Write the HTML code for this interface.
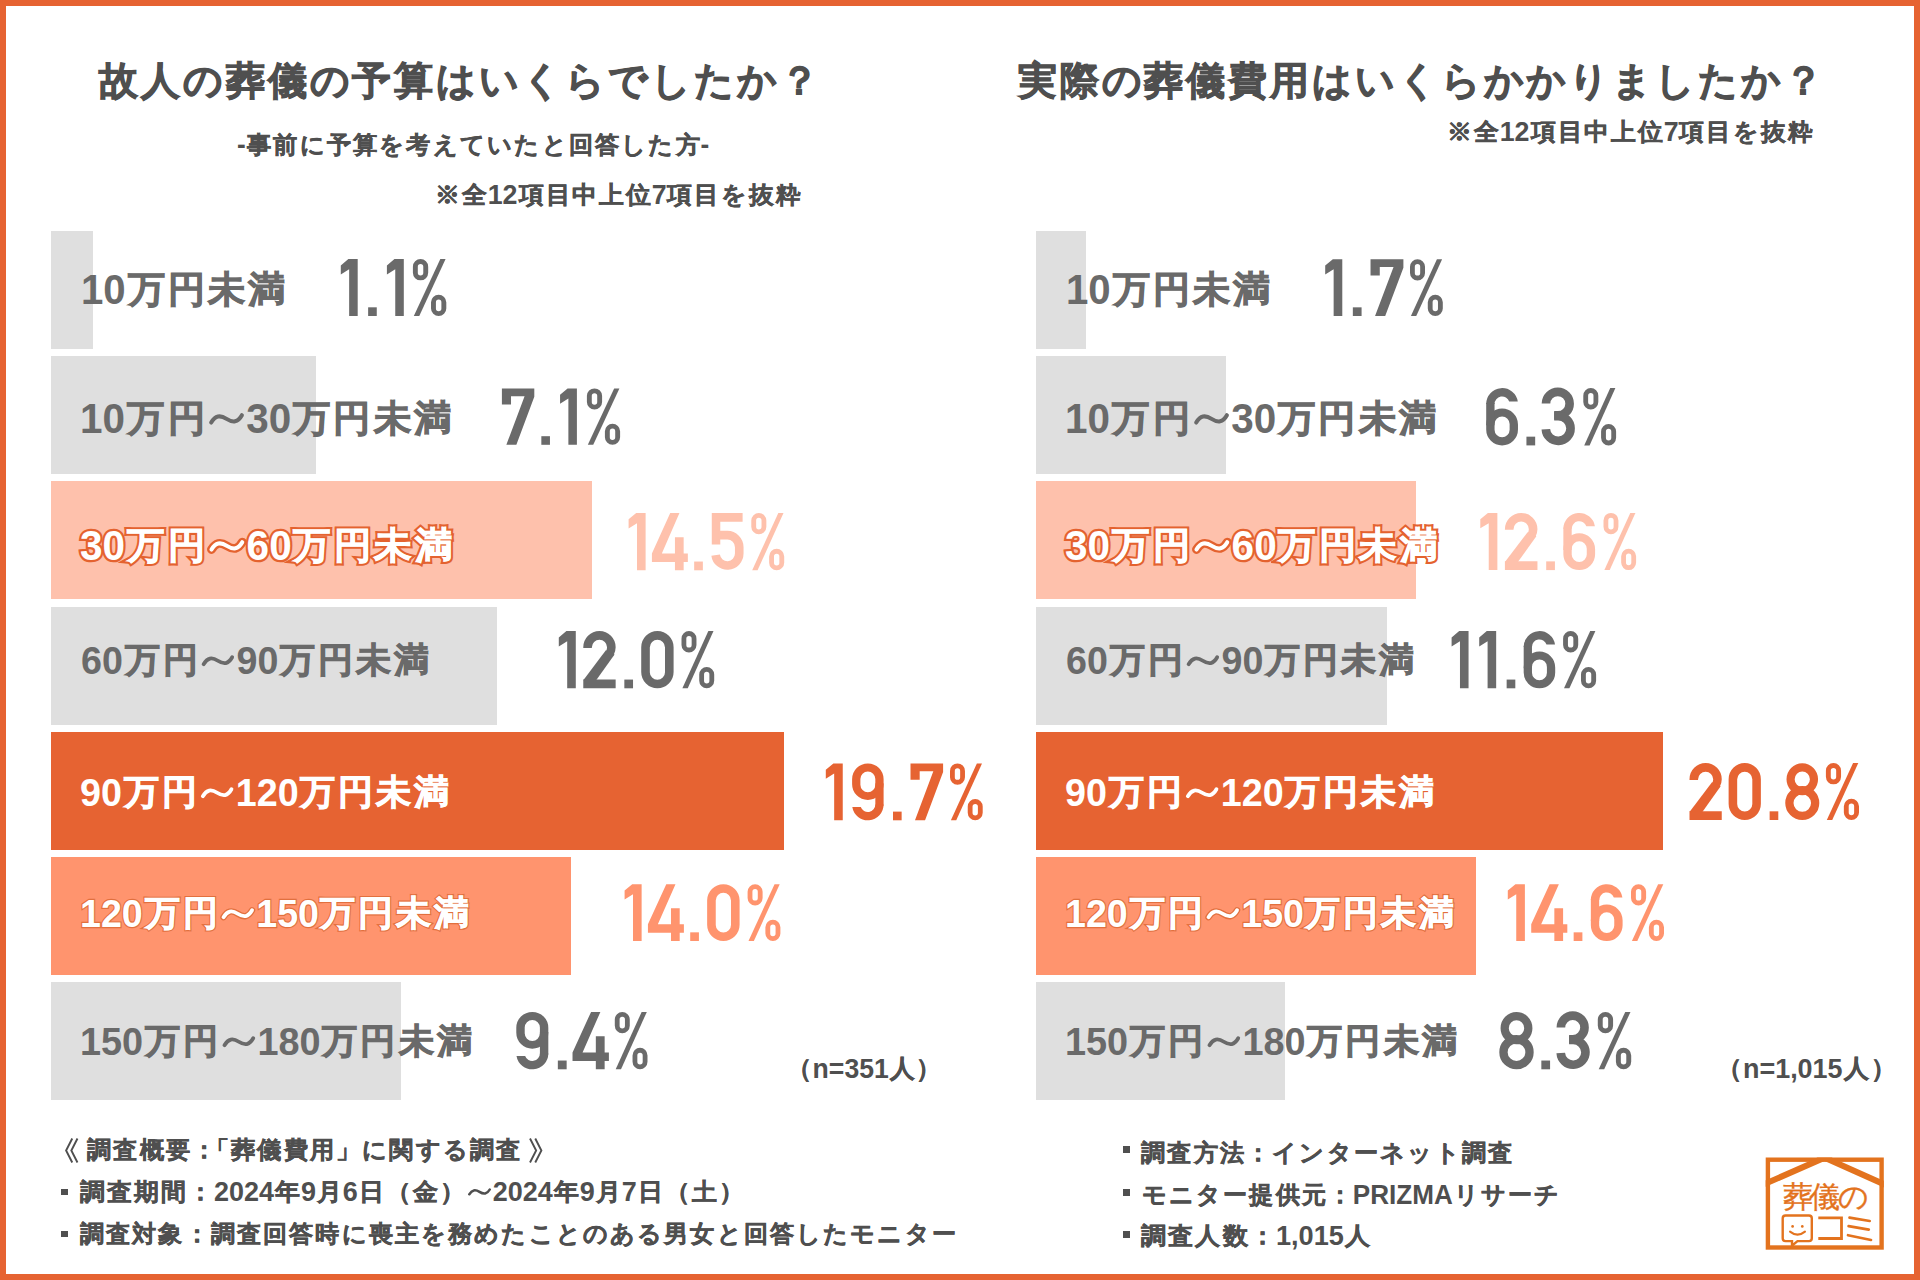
<!DOCTYPE html>
<html lang="ja"><head><meta charset="utf-8"><title>葬儀費用</title><style>
html,body{margin:0;padding:0;}
body{width:1920px;height:1280px;position:relative;overflow:hidden;background:#fff;font-family:"Liberation Sans",sans-serif;font-weight:bold;}
.frame{position:absolute;left:0;top:0;width:1920px;height:1280px;box-sizing:border-box;border:6px solid #E66332;}
.t{position:absolute;white-space:nowrap;transform-origin:0 0;}
.bar{position:absolute;height:118px;}
.wv{display:inline-block;width:1em;height:0;position:relative;-webkit-text-stroke:0;}
.wv svg{position:absolute;left:0;top:-0.86em;width:1em;height:1em;overflow:visible;}
.a{-webkit-text-stroke-width:0;display:inline-block;transform:scaleY(1.05);transform-origin:50% 84.65%;}
.k{display:inline-block;transform:translateY(-0.03em) scale(0.92);transform-origin:50% 54%;}
.th1{-webkit-text-stroke:0.9px currentColor;}
.th2{-webkit-text-stroke:1.0px currentColor;}
.th3{-webkit-text-stroke:0.5px currentColor;}
.ol{-webkit-text-stroke:5.5px #E4622F;color:#E4622F;}
.ol .a{-webkit-text-stroke-width:4.4px;}
.os{-webkit-text-stroke:3.4px #E2703E;color:#E2703E;}
.os .a{-webkit-text-stroke-width:2.3px;}
</style></head><body>
<div class="bar" style="left:51px;top:231px;width:42px;background:#DFDFDF"></div>
<div class="bar" style="left:1036px;top:231px;width:50px;background:#DFDFDF"></div>
<div class="bar" style="left:51px;top:356px;width:265px;background:#DFDFDF"></div>
<div class="bar" style="left:1036px;top:356px;width:190px;background:#DFDFDF"></div>
<div class="bar" style="left:51px;top:481px;width:541px;background:#FEC1AC"></div>
<div class="bar" style="left:1036px;top:481px;width:380px;background:#FEC1AC"></div>
<div class="bar" style="left:51px;top:607px;width:446px;background:#DFDFDF"></div>
<div class="bar" style="left:1036px;top:607px;width:351px;background:#DFDFDF"></div>
<div class="bar" style="left:51px;top:732px;width:733px;background:#E66332"></div>
<div class="bar" style="left:1036px;top:732px;width:627px;background:#E66332"></div>
<div class="bar" style="left:51px;top:857px;width:520px;background:#FF946E"></div>
<div class="bar" style="left:1036px;top:857px;width:440px;background:#FF946E"></div>
<div class="bar" style="left:51px;top:982px;width:350px;background:#DFDFDF"></div>
<div class="bar" style="left:1036px;top:982px;width:249px;background:#DFDFDF"></div>
<div class="t th2" style="left:96.70px;top:60.80px;font-size:42px;line-height:42px;color:#4F4F4F;transform:scaleX(0.9990);"><span class="k">故</span><span class="k">人</span><span class="k">の</span><span class="k">葬</span><span class="k">儀</span><span class="k">の</span><span class="k">予</span><span class="k">算</span><span class="k">は</span><span class="k">い</span><span class="k">く</span><span class="k">ら</span><span class="k">で</span><span class="k">し</span><span class="k">た</span><span class="k">か</span><span class="k">？</span></div>
<div class="t th2" style="left:1016.30px;top:61.00px;font-size:42px;line-height:42px;color:#4F4F4F;transform:scaleX(0.9976);"><span class="k">実</span><span class="k">際</span><span class="k">の</span><span class="k">葬</span><span class="k">儀</span><span class="k">費</span><span class="k">用</span><span class="k">は</span><span class="k">い</span><span class="k">く</span><span class="k">ら</span><span class="k">か</span><span class="k">か</span><span class="k">り</span><span class="k">ま</span><span class="k">し</span><span class="k">た</span><span class="k">か</span><span class="k">？</span></div>
<div class="t th3" style="left:236.79px;top:132.40px;font-size:26px;line-height:26px;color:#4F4F4F;transform:scaleX(1.0082);"><span class="a">-</span><span class="k">事</span><span class="k">前</span><span class="k">に</span><span class="k">予</span><span class="k">算</span><span class="k">を</span><span class="k">考</span><span class="k">え</span><span class="k">て</span><span class="k">い</span><span class="k">た</span><span class="k">と</span><span class="k">回</span><span class="k">答</span><span class="k">し</span><span class="k">た</span><span class="k">方</span><span class="a">-</span></div>
<div class="t th3" style="left:434.47px;top:181.60px;font-size:26px;line-height:26px;color:#4F4F4F;transform:scaleX(1.0325);"><span class="k">※</span><span class="k">全</span><span class="a">12</span><span class="k">項</span><span class="k">目</span><span class="k">中</span><span class="k">上</span><span class="k">位</span><span class="a">7</span><span class="k">項</span><span class="k">目</span><span class="k">を</span><span class="k">抜</span><span class="k">粋</span></div>
<div class="t th3" style="left:1446.47px;top:119.00px;font-size:26px;line-height:26px;color:#4F4F4F;transform:scaleX(1.0325);"><span class="k">※</span><span class="k">全</span><span class="a">12</span><span class="k">項</span><span class="k">目</span><span class="k">中</span><span class="k">上</span><span class="k">位</span><span class="a">7</span><span class="k">項</span><span class="k">目</span><span class="k">を</span><span class="k">抜</span><span class="k">粋</span></div>
<div class="t th3" style="left:786.23px;top:1056.00px;font-size:27px;line-height:27px;color:#4F4F4F;transform:scaleX(0.9857);"><span class="k">（</span><span class="a">n=351</span><span class="k">人</span><span class="k">）</span></div>
<div class="t th3" style="left:1716.03px;top:1055.50px;font-size:27px;line-height:27px;color:#4F4F4F;transform:scaleX(0.9980);"><span class="k">（</span><span class="a">n=1,015</span><span class="k">人</span><span class="k">）</span></div>
<div class="t th3" style="left:53.22px;top:1137.00px;font-size:26px;line-height:26px;color:#4F4F4F;transform:scaleX(1.0070);"><span class="wv"><svg viewBox="0 0 40 40"><path d="M29.4 2.3L20 20.8L29.4 39.3M37.4 2.3L28 20.8L37.4 39.3" stroke="currentColor" stroke-width="2.9" fill="none"/></svg></span> <span class="k">調</span><span class="k">査</span><span class="k">概</span><span class="k">要</span><span class="k">：</span><span class="k" style="margin-left:-0.5em">「</span><span class="k">葬</span><span class="k">儀</span><span class="k">費</span><span class="k">用</span><span class="k">」</span><span class="k">に</span><span class="k">関</span><span class="k">す</span><span class="k">る</span><span class="k">調</span><span class="k">査</span> <span class="wv"><svg viewBox="0 0 40 40"><path d="M10.6 2.3L20 20.8L10.6 39.3M2.6 2.3L12 20.8L2.6 39.3" stroke="currentColor" stroke-width="2.9" fill="none"/></svg></span></div>
<div class="t th3" style="left:78.76px;top:1179.00px;font-size:26px;line-height:26px;color:#4F4F4F;transform:scaleX(1.0376);"><span class="k">調</span><span class="k">査</span><span class="k">期</span><span class="k">間</span><span class="k">：</span><span class="a">2024</span><span class="k">年</span><span class="a">9</span><span class="k">月</span><span class="a">6</span><span class="k">日</span><span class="k">（</span><span class="k">金</span><span class="k">）</span><span class="k"><span class="wv"><svg viewBox="0 0 40 40"><path d="M3.5 25 C 8 17.5, 13 16.5, 20 21 S 32 25, 36.5 17" stroke="currentColor" stroke-width="4.2" fill="none" stroke-linecap="round"/></svg></span></span><span class="a">2024</span><span class="k">年</span><span class="a">9</span><span class="k">月</span><span class="a">7</span><span class="k">日</span><span class="k">（</span><span class="k">土</span><span class="k">）</span></div>
<div class="t th3" style="left:78.79px;top:1220.80px;font-size:26px;line-height:26px;color:#4F4F4F;transform:scaleX(1.0055);"><span class="k">調</span><span class="k">査</span><span class="k">対</span><span class="k">象</span><span class="k">：</span><span class="k">調</span><span class="k">査</span><span class="k">回</span><span class="k">答</span><span class="k">時</span><span class="k">に</span><span class="k">喪</span><span class="k">主</span><span class="k">を</span><span class="k">務</span><span class="k">め</span><span class="k">た</span><span class="k">こ</span><span class="k">と</span><span class="k">の</span><span class="k">あ</span><span class="k">る</span><span class="k">男</span><span class="k">女</span><span class="k">と</span><span class="k">回</span><span class="k">答</span><span class="k">し</span><span class="k">た</span><span class="k">モ</span><span class="k">ニ</span><span class="k">タ</span><span class="k">ー</span></div>
<div class="t th3" style="left:1140.09px;top:1139.70px;font-size:26px;line-height:26px;color:#4F4F4F;transform:scaleX(1.0087);"><span class="k">調</span><span class="k">査</span><span class="k">方</span><span class="k">法</span><span class="k">：</span><span class="k">イ</span><span class="k">ン</span><span class="k">タ</span><span class="k">ー</span><span class="k">ネ</span><span class="k">ッ</span><span class="k">ト</span><span class="k">調</span><span class="k">査</span></div>
<div class="t th3" style="left:1141.49px;top:1181.50px;font-size:26px;line-height:26px;color:#4F4F4F;transform:scaleX(1.0036);"><span class="k">モ</span><span class="k">ニ</span><span class="k">タ</span><span class="k">ー</span><span class="k">提</span><span class="k">供</span><span class="k">元</span><span class="k">：</span><span class="a">PRIZMA</span><span class="k">リ</span><span class="k">サ</span><span class="k">ー</span><span class="k">チ</span></div>
<div class="t th3" style="left:1140.05px;top:1223.30px;font-size:26px;line-height:26px;color:#4F4F4F;transform:scaleX(1.0452);"><span class="k">調</span><span class="k">査</span><span class="k">人</span><span class="k">数</span><span class="k">：</span><span class="a">1,015</span><span class="k">人</span></div>
<div class="t th1" style="left:80.69px;top:269.94px;font-size:40px;line-height:40px;color:#6A6A6A;transform:scaleX(1.0052);"><span class="a">10</span><span class="k">万</span><span class="k">円</span><span class="k">未</span><span class="k">満</span></div>
<div class="t th1" style="left:1065.69px;top:269.94px;font-size:40px;line-height:40px;color:#6A6A6A;transform:scaleX(1.0052);"><span class="a">10</span><span class="k">万</span><span class="k">円</span><span class="k">未</span><span class="k">満</span></div>
<div class="t th1" style="left:80.48px;top:399.04px;font-size:40px;line-height:40px;color:#6A6A6A;transform:scaleX(1.0107);"><span class="a">10</span><span class="k">万</span><span class="k">円</span><span class="k"><span class="wv"><svg viewBox="0 0 40 40"><path d="M3.5 25 C 8 17.5, 13 16.5, 20 21 S 32 25, 36.5 17" stroke="currentColor" stroke-width="4.4" fill="none" stroke-linecap="round"/></svg></span></span><span class="a">30</span><span class="k">万</span><span class="k">円</span><span class="k">未</span><span class="k">満</span></div>
<div class="t th1" style="left:1065.48px;top:399.04px;font-size:40px;line-height:40px;color:#6A6A6A;transform:scaleX(1.0107);"><span class="a">10</span><span class="k">万</span><span class="k">円</span><span class="k"><span class="wv"><svg viewBox="0 0 40 40"><path d="M3.5 25 C 8 17.5, 13 16.5, 20 21 S 32 25, 36.5 17" stroke="currentColor" stroke-width="4.4" fill="none" stroke-linecap="round"/></svg></span></span><span class="a">30</span><span class="k">万</span><span class="k">円</span><span class="k">未</span><span class="k">満</span></div>
<div class="t ol" style="left:79.61px;top:525.84px;font-size:40px;line-height:40px;transform:scaleX(1.0129);"><span class="a">30</span><span class="k">万</span><span class="k">円</span><span class="k"><span class="wv"><svg viewBox="0 0 40 40"><path d="M3.5 25 C 8 17.5, 13 16.5, 20 21 S 32 25, 36.5 17" stroke="currentColor" stroke-width="9.6" fill="none" stroke-linecap="round"/></svg></span></span><span class="a">60</span><span class="k">万</span><span class="k">円</span><span class="k">未</span><span class="k">満</span></div>
<div class="t th1" style="left:79.61px;top:525.84px;font-size:40px;line-height:40px;color:#fff;transform:scaleX(1.0129);"><span class="a">30</span><span class="k">万</span><span class="k">円</span><span class="k"><span class="wv"><svg viewBox="0 0 40 40"><path d="M3.5 25 C 8 17.5, 13 16.5, 20 21 S 32 25, 36.5 17" stroke="currentColor" stroke-width="4.4" fill="none" stroke-linecap="round"/></svg></span></span><span class="a">60</span><span class="k">万</span><span class="k">円</span><span class="k">未</span><span class="k">満</span></div>
<div class="t ol" style="left:1064.61px;top:525.84px;font-size:40px;line-height:40px;transform:scaleX(1.0129);"><span class="a">30</span><span class="k">万</span><span class="k">円</span><span class="k"><span class="wv"><svg viewBox="0 0 40 40"><path d="M3.5 25 C 8 17.5, 13 16.5, 20 21 S 32 25, 36.5 17" stroke="currentColor" stroke-width="9.6" fill="none" stroke-linecap="round"/></svg></span></span><span class="a">60</span><span class="k">万</span><span class="k">円</span><span class="k">未</span><span class="k">満</span></div>
<div class="t th1" style="left:1064.61px;top:525.84px;font-size:40px;line-height:40px;color:#fff;transform:scaleX(1.0129);"><span class="a">30</span><span class="k">万</span><span class="k">円</span><span class="k"><span class="wv"><svg viewBox="0 0 40 40"><path d="M3.5 25 C 8 17.5, 13 16.5, 20 21 S 32 25, 36.5 17" stroke="currentColor" stroke-width="4.4" fill="none" stroke-linecap="round"/></svg></span></span><span class="a">60</span><span class="k">万</span><span class="k">円</span><span class="k">未</span><span class="k">満</span></div>
<div class="t th1" style="left:80.60px;top:643.37px;font-size:37.6px;line-height:37.6px;color:#6A6A6A;transform:scaleX(1.0006);"><span class="a">60</span><span class="k">万</span><span class="k">円</span><span class="k"><span class="wv"><svg viewBox="0 0 40 40"><path d="M3.5 25 C 8 17.5, 13 16.5, 20 21 S 32 25, 36.5 17" stroke="currentColor" stroke-width="4.4" fill="none" stroke-linecap="round"/></svg></span></span><span class="a">90</span><span class="k">万</span><span class="k">円</span><span class="k">未</span><span class="k">満</span></div>
<div class="t th1" style="left:1065.60px;top:643.37px;font-size:37.6px;line-height:37.6px;color:#6A6A6A;transform:scaleX(1.0006);"><span class="a">60</span><span class="k">万</span><span class="k">円</span><span class="k"><span class="wv"><svg viewBox="0 0 40 40"><path d="M3.5 25 C 8 17.5, 13 16.5, 20 21 S 32 25, 36.5 17" stroke="currentColor" stroke-width="4.4" fill="none" stroke-linecap="round"/></svg></span></span><span class="a">90</span><span class="k">万</span><span class="k">円</span><span class="k">未</span><span class="k">満</span></div>
<div class="t th1" style="left:80.20px;top:774.77px;font-size:37.6px;line-height:37.6px;color:#fff;transform:scaleX(1.0025);"><span class="a">90</span><span class="k">万</span><span class="k">円</span><span class="k"><span class="wv"><svg viewBox="0 0 40 40"><path d="M3.5 25 C 8 17.5, 13 16.5, 20 21 S 32 25, 36.5 17" stroke="currentColor" stroke-width="4.4" fill="none" stroke-linecap="round"/></svg></span></span><span class="a">120</span><span class="k">万</span><span class="k">円</span><span class="k">未</span><span class="k">満</span></div>
<div class="t th1" style="left:1065.20px;top:774.77px;font-size:37.6px;line-height:37.6px;color:#fff;transform:scaleX(1.0025);"><span class="a">90</span><span class="k">万</span><span class="k">円</span><span class="k"><span class="wv"><svg viewBox="0 0 40 40"><path d="M3.5 25 C 8 17.5, 13 16.5, 20 21 S 32 25, 36.5 17" stroke="currentColor" stroke-width="4.4" fill="none" stroke-linecap="round"/></svg></span></span><span class="a">120</span><span class="k">万</span><span class="k">円</span><span class="k">未</span><span class="k">満</span></div>
<div class="t os" style="left:80.30px;top:896.37px;font-size:37.6px;line-height:37.6px;transform:scaleX(0.9999);"><span class="a">120</span><span class="k">万</span><span class="k">円</span><span class="k"><span class="wv"><svg viewBox="0 0 40 40"><path d="M3.5 25 C 8 17.5, 13 16.5, 20 21 S 32 25, 36.5 17" stroke="currentColor" stroke-width="7.4" fill="none" stroke-linecap="round"/></svg></span></span><span class="a">150</span><span class="k">万</span><span class="k">円</span><span class="k">未</span><span class="k">満</span></div>
<div class="t th1" style="left:80.30px;top:896.37px;font-size:37.6px;line-height:37.6px;color:#fff;transform:scaleX(0.9999);"><span class="a">120</span><span class="k">万</span><span class="k">円</span><span class="k"><span class="wv"><svg viewBox="0 0 40 40"><path d="M3.5 25 C 8 17.5, 13 16.5, 20 21 S 32 25, 36.5 17" stroke="currentColor" stroke-width="4.4" fill="none" stroke-linecap="round"/></svg></span></span><span class="a">150</span><span class="k">万</span><span class="k">円</span><span class="k">未</span><span class="k">満</span></div>
<div class="t os" style="left:1065.30px;top:896.37px;font-size:37.6px;line-height:37.6px;transform:scaleX(0.9999);"><span class="a">120</span><span class="k">万</span><span class="k">円</span><span class="k"><span class="wv"><svg viewBox="0 0 40 40"><path d="M3.5 25 C 8 17.5, 13 16.5, 20 21 S 32 25, 36.5 17" stroke="currentColor" stroke-width="7.4" fill="none" stroke-linecap="round"/></svg></span></span><span class="a">150</span><span class="k">万</span><span class="k">円</span><span class="k">未</span><span class="k">満</span></div>
<div class="t th1" style="left:1065.30px;top:896.37px;font-size:37.6px;line-height:37.6px;color:#fff;transform:scaleX(0.9999);"><span class="a">120</span><span class="k">万</span><span class="k">円</span><span class="k"><span class="wv"><svg viewBox="0 0 40 40"><path d="M3.5 25 C 8 17.5, 13 16.5, 20 21 S 32 25, 36.5 17" stroke="currentColor" stroke-width="4.4" fill="none" stroke-linecap="round"/></svg></span></span><span class="a">150</span><span class="k">万</span><span class="k">円</span><span class="k">未</span><span class="k">満</span></div>
<div class="t th1" style="left:79.79px;top:1024.07px;font-size:37.6px;line-height:37.6px;color:#6A6A6A;transform:scaleX(1.0065);"><span class="a">150</span><span class="k">万</span><span class="k">円</span><span class="k"><span class="wv"><svg viewBox="0 0 40 40"><path d="M3.5 25 C 8 17.5, 13 16.5, 20 21 S 32 25, 36.5 17" stroke="currentColor" stroke-width="4.4" fill="none" stroke-linecap="round"/></svg></span></span><span class="a">180</span><span class="k">万</span><span class="k">円</span><span class="k">未</span><span class="k">満</span></div>
<div class="t th1" style="left:1064.79px;top:1024.07px;font-size:37.6px;line-height:37.6px;color:#6A6A6A;transform:scaleX(1.0065);"><span class="a">150</span><span class="k">万</span><span class="k">円</span><span class="k"><span class="wv"><svg viewBox="0 0 40 40"><path d="M3.5 25 C 8 17.5, 13 16.5, 20 21 S 32 25, 36.5 17" stroke="currentColor" stroke-width="4.4" fill="none" stroke-linecap="round"/></svg></span></span><span class="a">180</span><span class="k">万</span><span class="k">円</span><span class="k">未</span><span class="k">満</span></div>
<svg style="position:absolute;left:0;top:0" width="1920" height="1280" viewBox="0 0 1920 1280"><g transform="translate(340.80 259.10) scale(0.9937 0.9982)" fill="#6A6A6A"><g transform="translate(0.00 0)"><path d="M0 6.3L7.6 0H17V57H8.4V10.2L0 15.4Z" fill-rule="nonzero"/></g><g transform="translate(27.50 0)"><path d="M0 48.3H8.7V57H0Z" fill-rule="nonzero"/></g><g transform="translate(46.40 0)"><path d="M0 6.3L7.6 0H17V57H8.4V10.2L0 15.4Z" fill-rule="nonzero"/></g></g><g transform="translate(412.90 259.10) scale(1.0121 0.9982)" fill="#6A6A6A"><g transform="translate(0.00 0)"><path d="M0.00 7.55A7.55 7.55 0 0 1 15.10 7.55V13.75A7.55 7.55 0 0 1 0.00 13.75ZM4.85 7.55A2.70 2.70 0 0 1 10.25 7.55V13.75A2.70 2.70 0 0 1 4.85 13.75Z" fill-rule="evenodd"/><path d="M17.90 43.25A7.55 7.55 0 0 1 33.00 43.25V49.45A7.55 7.55 0 0 1 17.90 49.45ZM22.75 43.25A2.70 2.70 0 0 1 28.15 43.25V49.45A2.70 2.70 0 0 1 22.75 49.45Z" fill-rule="evenodd"/><path d="M27.1 0H32.3L6.3 57H0.9Z" fill-rule="nonzero"/></g></g><g transform="translate(501.90 388.40) scale(0.9908 0.9895)" fill="#6A6A6A"><g transform="translate(0.00 0)"><path d="M0 0H32.7V8.5L14.6 57H4.5L22.9 7.9H9.2V16.3H0Z" fill-rule="nonzero"/></g><g transform="translate(39.80 0)"><path d="M0 48.3H8.7V57H0Z" fill-rule="nonzero"/></g><g transform="translate(58.70 0)"><path d="M0 6.3L7.6 0H17V57H8.4V10.2L0 15.4Z" fill-rule="nonzero"/></g></g><g transform="translate(586.90 388.40) scale(1.0061 0.9895)" fill="#6A6A6A"><g transform="translate(0.00 0)"><path d="M0.00 7.55A7.55 7.55 0 0 1 15.10 7.55V13.75A7.55 7.55 0 0 1 0.00 13.75ZM4.85 7.55A2.70 2.70 0 0 1 10.25 7.55V13.75A2.70 2.70 0 0 1 4.85 13.75Z" fill-rule="evenodd"/><path d="M17.90 43.25A7.55 7.55 0 0 1 33.00 43.25V49.45A7.55 7.55 0 0 1 17.90 49.45ZM22.75 43.25A2.70 2.70 0 0 1 28.15 43.25V49.45A2.70 2.70 0 0 1 22.75 49.45Z" fill-rule="evenodd"/><path d="M27.1 0H32.3L6.3 57H0.9Z" fill-rule="nonzero"/></g></g><g transform="translate(628.60 512.90) scale(1.0009 1.0070)" fill="#FEC1AC"><g transform="translate(0.00 0)"><path d="M0 6.3L7.6 0H17V57H8.4V10.2L0 15.4Z" fill-rule="nonzero"/></g><g transform="translate(23.30 0)"><path d="M18.3 0H27.5L9.9 40.3H23V24.1H31.7V40.3H35.9V48.7H31.7V57H23V48.7H0V40.3Z" fill-rule="nonzero"/></g><g transform="translate(65.50 0)"><path d="M0 48.3H8.7V57H0Z" fill-rule="nonzero"/></g><g transform="translate(82.50 0)"><path d="M0.6 0H31.4V8.7H9.1V31.4H0.6Z" fill-rule="nonzero"/><path d="M7 22.15H16.2A11.85 11.85 0 0 1 28.05 34V40.4A11.85 11.85 0 0 1 4.45 41.9" fill="none" stroke="#FEC1AC" stroke-width="8.6"/></g></g><g transform="translate(751.30 512.90) scale(0.9970 1.0070)" fill="#FEC1AC"><g transform="translate(0.00 0)"><path d="M0.00 7.55A7.55 7.55 0 0 1 15.10 7.55V13.75A7.55 7.55 0 0 1 0.00 13.75ZM4.85 7.55A2.70 2.70 0 0 1 10.25 7.55V13.75A2.70 2.70 0 0 1 4.85 13.75Z" fill-rule="evenodd"/><path d="M17.90 43.25A7.55 7.55 0 0 1 33.00 43.25V49.45A7.55 7.55 0 0 1 17.90 49.45ZM22.75 43.25A2.70 2.70 0 0 1 28.15 43.25V49.45A2.70 2.70 0 0 1 22.75 49.45Z" fill-rule="evenodd"/><path d="M27.1 0H32.3L6.3 57H0.9Z" fill-rule="nonzero"/></g></g><g transform="translate(558.80 631.10) scale(0.9991 1.0035)" fill="#6A6A6A"><g transform="translate(0.00 0)"><path d="M0 6.3L7.6 0H17V57H8.4V10.2L0 15.4Z" fill-rule="nonzero"/></g><g transform="translate(24.50 0)"><path d="M4.3 16.9V16.2A11.9 11.9 0 0 1 28.1 16.2A11.9 11.9 0 0 1 26.5 22.15" fill="none" stroke="#6A6A6A" stroke-width="8.6"/><path d="M22.6 19.2L31.3 23.3L12.9 49H0Z" fill-rule="nonzero"/><path d="M0 48.2H32.4V57H0Z" fill-rule="nonzero"/></g><g transform="translate(65.60 0)"><path d="M0 48.3H8.7V57H0Z" fill-rule="nonzero"/></g><g transform="translate(82.50 0)"><path d="M0.00 16.20A16.20 16.20 0 0 1 32.40 16.20V40.80A16.20 16.20 0 0 1 0.00 40.80ZM8.60 16.30A7.60 7.60 0 0 1 23.80 16.30V40.90A7.60 7.60 0 0 1 8.60 40.90Z" fill-rule="evenodd"/></g></g><g transform="translate(681.50 631.10) scale(0.9909 1.0035)" fill="#6A6A6A"><g transform="translate(0.00 0)"><path d="M0.00 7.55A7.55 7.55 0 0 1 15.10 7.55V13.75A7.55 7.55 0 0 1 0.00 13.75ZM4.85 7.55A2.70 2.70 0 0 1 10.25 7.55V13.75A2.70 2.70 0 0 1 4.85 13.75Z" fill-rule="evenodd"/><path d="M17.90 43.25A7.55 7.55 0 0 1 33.00 43.25V49.45A7.55 7.55 0 0 1 17.90 49.45ZM22.75 43.25A2.70 2.70 0 0 1 28.15 43.25V49.45A2.70 2.70 0 0 1 22.75 49.45Z" fill-rule="evenodd"/><path d="M27.1 0H32.3L6.3 57H0.9Z" fill-rule="nonzero"/></g></g><g transform="translate(825.80 763.40) scale(0.9966 0.9982)" fill="#E66332"><g transform="translate(0.00 0)"><path d="M0 6.3L7.6 0H17V57H8.4V10.2L0 15.4Z" fill-rule="nonzero"/></g><g transform="translate(26.40 0)"><g transform="rotate(180 15.8 28.5)"><path d="M0.00 36.20A15.80 15.80 0 0 1 31.60 36.20V41.20A15.80 15.80 0 0 1 0.00 41.20ZM8.30 35.70A7.50 7.50 0 0 1 23.30 35.70V41.40A7.50 7.50 0 0 1 8.30 41.40Z" fill-rule="evenodd"/><path d="M0 14.6H8.3V37H0Z" fill-rule="nonzero"/><path d="M0 15.8A15.8 15.8 0 0 1 31.4 13.3H22.87A7.5 7.5 0 0 0 8.3 15.8Z" fill-rule="nonzero"/></g></g><g transform="translate(67.40 0)"><path d="M0 48.3H8.7V57H0Z" fill-rule="nonzero"/></g><g transform="translate(85.00 0)"><path d="M0 0H32.7V8.5L14.6 57H4.5L22.9 7.9H9.2V16.3H0Z" fill-rule="nonzero"/></g></g><g transform="translate(950.00 763.40) scale(0.9909 0.9982)" fill="#E66332"><g transform="translate(0.00 0)"><path d="M0.00 7.55A7.55 7.55 0 0 1 15.10 7.55V13.75A7.55 7.55 0 0 1 0.00 13.75ZM4.85 7.55A2.70 2.70 0 0 1 10.25 7.55V13.75A2.70 2.70 0 0 1 4.85 13.75Z" fill-rule="evenodd"/><path d="M17.90 43.25A7.55 7.55 0 0 1 33.00 43.25V49.45A7.55 7.55 0 0 1 17.90 49.45ZM22.75 43.25A2.70 2.70 0 0 1 28.15 43.25V49.45A2.70 2.70 0 0 1 22.75 49.45Z" fill-rule="evenodd"/><path d="M27.1 0H32.3L6.3 57H0.9Z" fill-rule="nonzero"/></g></g><g transform="translate(624.60 884.20) scale(1.0017 0.9965)" fill="#FF946E"><g transform="translate(0.00 0)"><path d="M0 6.3L7.6 0H17V57H8.4V10.2L0 15.4Z" fill-rule="nonzero"/></g><g transform="translate(23.30 0)"><path d="M18.3 0H27.5L9.9 40.3H23V24.1H31.7V40.3H35.9V48.7H31.7V57H23V48.7H0V40.3Z" fill-rule="nonzero"/></g><g transform="translate(65.50 0)"><path d="M0 48.3H8.7V57H0Z" fill-rule="nonzero"/></g><g transform="translate(82.40 0)"><path d="M0.00 16.20A16.20 16.20 0 0 1 32.40 16.20V40.80A16.20 16.20 0 0 1 0.00 40.80ZM8.60 16.30A7.60 7.60 0 0 1 23.80 16.30V40.90A7.60 7.60 0 0 1 8.60 40.90Z" fill-rule="evenodd"/></g></g><g transform="translate(747.60 884.20) scale(0.9939 0.9965)" fill="#FF946E"><g transform="translate(0.00 0)"><path d="M0.00 7.55A7.55 7.55 0 0 1 15.10 7.55V13.75A7.55 7.55 0 0 1 0.00 13.75ZM4.85 7.55A2.70 2.70 0 0 1 10.25 7.55V13.75A2.70 2.70 0 0 1 4.85 13.75Z" fill-rule="evenodd"/><path d="M17.90 43.25A7.55 7.55 0 0 1 33.00 43.25V49.45A7.55 7.55 0 0 1 17.90 49.45ZM22.75 43.25A2.70 2.70 0 0 1 28.15 43.25V49.45A2.70 2.70 0 0 1 22.75 49.45Z" fill-rule="evenodd"/><path d="M27.1 0H32.3L6.3 57H0.9Z" fill-rule="nonzero"/></g></g><g transform="translate(516.30 1011.90) scale(1.0131 1.0070)" fill="#6A6A6A"><g transform="translate(0.00 0)"><g transform="rotate(180 15.8 28.5)"><path d="M0.00 36.20A15.80 15.80 0 0 1 31.60 36.20V41.20A15.80 15.80 0 0 1 0.00 41.20ZM8.30 35.70A7.50 7.50 0 0 1 23.30 35.70V41.40A7.50 7.50 0 0 1 8.30 41.40Z" fill-rule="evenodd"/><path d="M0 14.6H8.3V37H0Z" fill-rule="nonzero"/><path d="M0 15.8A15.8 15.8 0 0 1 31.4 13.3H22.87A7.5 7.5 0 0 0 8.3 15.8Z" fill-rule="nonzero"/></g></g><g transform="translate(41.00 0)"><path d="M0 48.3H8.7V57H0Z" fill-rule="nonzero"/></g><g transform="translate(55.50 0)"><path d="M18.3 0H27.5L9.9 40.3H23V24.1H31.7V40.3H35.9V48.7H31.7V57H23V48.7H0V40.3Z" fill-rule="nonzero"/></g></g><g transform="translate(614.80 1011.90) scale(0.9909 1.0070)" fill="#6A6A6A"><g transform="translate(0.00 0)"><path d="M0.00 7.55A7.55 7.55 0 0 1 15.10 7.55V13.75A7.55 7.55 0 0 1 0.00 13.75ZM4.85 7.55A2.70 2.70 0 0 1 10.25 7.55V13.75A2.70 2.70 0 0 1 4.85 13.75Z" fill-rule="evenodd"/><path d="M17.90 43.25A7.55 7.55 0 0 1 33.00 43.25V49.45A7.55 7.55 0 0 1 17.90 49.45ZM22.75 43.25A2.70 2.70 0 0 1 28.15 43.25V49.45A2.70 2.70 0 0 1 22.75 49.45Z" fill-rule="evenodd"/><path d="M27.1 0H32.3L6.3 57H0.9Z" fill-rule="nonzero"/></g></g><g transform="translate(1325.20 259.20) scale(1.0051 0.9965)" fill="#6A6A6A"><g transform="translate(0.00 0)"><path d="M0 6.3L7.6 0H17V57H8.4V10.2L0 15.4Z" fill-rule="nonzero"/></g><g transform="translate(27.50 0)"><path d="M0 48.3H8.7V57H0Z" fill-rule="nonzero"/></g><g transform="translate(45.10 0)"><path d="M0 0H32.7V8.5L14.6 57H4.5L22.9 7.9H9.2V16.3H0Z" fill-rule="nonzero"/></g></g><g transform="translate(1410.00 259.20) scale(0.9939 0.9965)" fill="#6A6A6A"><g transform="translate(0.00 0)"><path d="M0.00 7.55A7.55 7.55 0 0 1 15.10 7.55V13.75A7.55 7.55 0 0 1 0.00 13.75ZM4.85 7.55A2.70 2.70 0 0 1 10.25 7.55V13.75A2.70 2.70 0 0 1 4.85 13.75Z" fill-rule="evenodd"/><path d="M17.90 43.25A7.55 7.55 0 0 1 33.00 43.25V49.45A7.55 7.55 0 0 1 17.90 49.45ZM22.75 43.25A2.70 2.70 0 0 1 28.15 43.25V49.45A2.70 2.70 0 0 1 22.75 49.45Z" fill-rule="evenodd"/><path d="M27.1 0H32.3L6.3 57H0.9Z" fill-rule="nonzero"/></g></g><g transform="translate(1486.20 388.10) scale(1.0057 1.0053)" fill="#6A6A6A"><g transform="translate(0.00 0)"><path d="M0.00 36.20A15.80 15.80 0 0 1 31.60 36.20V41.20A15.80 15.80 0 0 1 0.00 41.20ZM8.30 35.70A7.50 7.50 0 0 1 23.30 35.70V41.40A7.50 7.50 0 0 1 8.30 41.40Z" fill-rule="evenodd"/><path d="M0 14.6H8.3V37H0Z" fill-rule="nonzero"/><path d="M0 15.8A15.8 15.8 0 0 1 31.4 13.3H22.87A7.5 7.5 0 0 0 8.3 15.8Z" fill-rule="nonzero"/></g><g transform="translate(40.00 0)"><path d="M0 48.3H8.7V57H0Z" fill-rule="nonzero"/></g><g transform="translate(55.00 0)"><path d="M4.45 15.4A11.75 11.75 0 1 1 16.2 27.2H12.6" fill="none" stroke="#6A6A6A" stroke-width="8.6"/><path d="M12.6 27.9H16.6A12.3 12.3 0 1 1 4.3 40.9" fill="none" stroke="#6A6A6A" stroke-width="8.6"/></g></g><g transform="translate(1583.30 388.10) scale(0.9939 1.0053)" fill="#6A6A6A"><g transform="translate(0.00 0)"><path d="M0.00 7.55A7.55 7.55 0 0 1 15.10 7.55V13.75A7.55 7.55 0 0 1 0.00 13.75ZM4.85 7.55A2.70 2.70 0 0 1 10.25 7.55V13.75A2.70 2.70 0 0 1 4.85 13.75Z" fill-rule="evenodd"/><path d="M17.90 43.25A7.55 7.55 0 0 1 33.00 43.25V49.45A7.55 7.55 0 0 1 17.90 49.45ZM22.75 43.25A2.70 2.70 0 0 1 28.15 43.25V49.45A2.70 2.70 0 0 1 22.75 49.45Z" fill-rule="evenodd"/><path d="M27.1 0H32.3L6.3 57H0.9Z" fill-rule="nonzero"/></g></g><g transform="translate(1480.30 512.90) scale(1.0044 1.0035)" fill="#FEC1AC"><g transform="translate(0.00 0)"><path d="M0 6.3L7.6 0H17V57H8.4V10.2L0 15.4Z" fill-rule="nonzero"/></g><g transform="translate(24.50 0)"><path d="M4.3 16.9V16.2A11.9 11.9 0 0 1 28.1 16.2A11.9 11.9 0 0 1 26.5 22.15" fill="none" stroke="#FEC1AC" stroke-width="8.6"/><path d="M22.6 19.2L31.3 23.3L12.9 49H0Z" fill-rule="nonzero"/><path d="M0 48.2H32.4V57H0Z" fill-rule="nonzero"/></g><g transform="translate(65.60 0)"><path d="M0 48.3H8.7V57H0Z" fill-rule="nonzero"/></g><g transform="translate(82.70 0)"><path d="M0.00 36.20A15.80 15.80 0 0 1 31.60 36.20V41.20A15.80 15.80 0 0 1 0.00 41.20ZM8.30 35.70A7.50 7.50 0 0 1 23.30 35.70V41.40A7.50 7.50 0 0 1 8.30 41.40Z" fill-rule="evenodd"/><path d="M0 14.6H8.3V37H0Z" fill-rule="nonzero"/><path d="M0 15.8A15.8 15.8 0 0 1 31.4 13.3H22.87A7.5 7.5 0 0 0 8.3 15.8Z" fill-rule="nonzero"/></g></g><g transform="translate(1603.50 512.90) scale(0.9879 1.0035)" fill="#FEC1AC"><g transform="translate(0.00 0)"><path d="M0.00 7.55A7.55 7.55 0 0 1 15.10 7.55V13.75A7.55 7.55 0 0 1 0.00 13.75ZM4.85 7.55A2.70 2.70 0 0 1 10.25 7.55V13.75A2.70 2.70 0 0 1 4.85 13.75Z" fill-rule="evenodd"/><path d="M17.90 43.25A7.55 7.55 0 0 1 33.00 43.25V49.45A7.55 7.55 0 0 1 17.90 49.45ZM22.75 43.25A2.70 2.70 0 0 1 28.15 43.25V49.45A2.70 2.70 0 0 1 22.75 49.45Z" fill-rule="evenodd"/><path d="M27.1 0H32.3L6.3 57H0.9Z" fill-rule="nonzero"/></g></g><g transform="translate(1451.60 631.10) scale(0.9971 1.0035)" fill="#6A6A6A"><g transform="translate(0.00 0)"><path d="M0 6.3L7.6 0H17V57H8.4V10.2L0 15.4Z" fill-rule="nonzero"/></g><g transform="translate(27.70 0)"><path d="M0 6.3L7.6 0H17V57H8.4V10.2L0 15.4Z" fill-rule="nonzero"/></g><g transform="translate(55.20 0)"><path d="M0 48.3H8.7V57H0Z" fill-rule="nonzero"/></g><g transform="translate(72.30 0)"><path d="M0.00 36.20A15.80 15.80 0 0 1 31.60 36.20V41.20A15.80 15.80 0 0 1 0.00 41.20ZM8.30 35.70A7.50 7.50 0 0 1 23.30 35.70V41.40A7.50 7.50 0 0 1 8.30 41.40Z" fill-rule="evenodd"/><path d="M0 14.6H8.3V37H0Z" fill-rule="nonzero"/><path d="M0 15.8A15.8 15.8 0 0 1 31.4 13.3H22.87A7.5 7.5 0 0 0 8.3 15.8Z" fill-rule="nonzero"/></g></g><g transform="translate(1563.10 631.10) scale(1.0000 1.0035)" fill="#6A6A6A"><g transform="translate(0.00 0)"><path d="M0.00 7.55A7.55 7.55 0 0 1 15.10 7.55V13.75A7.55 7.55 0 0 1 0.00 13.75ZM4.85 7.55A2.70 2.70 0 0 1 10.25 7.55V13.75A2.70 2.70 0 0 1 4.85 13.75Z" fill-rule="evenodd"/><path d="M17.90 43.25A7.55 7.55 0 0 1 33.00 43.25V49.45A7.55 7.55 0 0 1 17.90 49.45ZM22.75 43.25A2.70 2.70 0 0 1 28.15 43.25V49.45A2.70 2.70 0 0 1 22.75 49.45Z" fill-rule="evenodd"/><path d="M27.1 0H32.3L6.3 57H0.9Z" fill-rule="nonzero"/></g></g><g transform="translate(1689.50 763.10) scale(0.9954 0.9982)" fill="#E66332"><g transform="translate(0.00 0)"><path d="M4.3 16.9V16.2A11.9 11.9 0 0 1 28.1 16.2A11.9 11.9 0 0 1 26.5 22.15" fill="none" stroke="#E66332" stroke-width="8.6"/><path d="M22.6 19.2L31.3 23.3L12.9 49H0Z" fill-rule="nonzero"/><path d="M0 48.2H32.4V57H0Z" fill-rule="nonzero"/></g><g transform="translate(39.30 0)"><path d="M0.00 16.20A16.20 16.20 0 0 1 32.40 16.20V40.80A16.20 16.20 0 0 1 0.00 40.80ZM8.60 16.30A7.60 7.60 0 0 1 23.80 16.30V40.90A7.60 7.60 0 0 1 8.60 40.90Z" fill-rule="evenodd"/></g><g transform="translate(80.50 0)"><path d="M0 48.3H8.7V57H0Z" fill-rule="nonzero"/></g><g transform="translate(96.20 0)"><ellipse cx="17.1" cy="16.15" rx="11.75" ry="11.95" fill="none" stroke="#E66332" stroke-width="8.2"/><ellipse cx="17.1" cy="40.0" rx="12.95" ry="12.85" fill="none" stroke="#E66332" stroke-width="8.3"/></g></g><g transform="translate(1825.90 763.10) scale(1.0030 0.9982)" fill="#E66332"><g transform="translate(0.00 0)"><path d="M0.00 7.55A7.55 7.55 0 0 1 15.10 7.55V13.75A7.55 7.55 0 0 1 0.00 13.75ZM4.85 7.55A2.70 2.70 0 0 1 10.25 7.55V13.75A2.70 2.70 0 0 1 4.85 13.75Z" fill-rule="evenodd"/><path d="M17.90 43.25A7.55 7.55 0 0 1 33.00 43.25V49.45A7.55 7.55 0 0 1 17.90 49.45ZM22.75 43.25A2.70 2.70 0 0 1 28.15 43.25V49.45A2.70 2.70 0 0 1 22.75 49.45Z" fill-rule="evenodd"/><path d="M27.1 0H32.3L6.3 57H0.9Z" fill-rule="nonzero"/></g></g><g transform="translate(1507.80 884.20) scale(1.0053 0.9965)" fill="#FF946E"><g transform="translate(0.00 0)"><path d="M0 6.3L7.6 0H17V57H8.4V10.2L0 15.4Z" fill-rule="nonzero"/></g><g transform="translate(23.30 0)"><path d="M18.3 0H27.5L9.9 40.3H23V24.1H31.7V40.3H35.9V48.7H31.7V57H23V48.7H0V40.3Z" fill-rule="nonzero"/></g><g transform="translate(65.50 0)"><path d="M0 48.3H8.7V57H0Z" fill-rule="nonzero"/></g><g transform="translate(82.60 0)"><path d="M0.00 36.20A15.80 15.80 0 0 1 31.60 36.20V41.20A15.80 15.80 0 0 1 0.00 41.20ZM8.30 35.70A7.50 7.50 0 0 1 23.30 35.70V41.40A7.50 7.50 0 0 1 8.30 41.40Z" fill-rule="evenodd"/><path d="M0 14.6H8.3V37H0Z" fill-rule="nonzero"/><path d="M0 15.8A15.8 15.8 0 0 1 31.4 13.3H22.87A7.5 7.5 0 0 0 8.3 15.8Z" fill-rule="nonzero"/></g></g><g transform="translate(1631.00 884.20) scale(1.0000 0.9965)" fill="#FF946E"><g transform="translate(0.00 0)"><path d="M0.00 7.55A7.55 7.55 0 0 1 15.10 7.55V13.75A7.55 7.55 0 0 1 0.00 13.75ZM4.85 7.55A2.70 2.70 0 0 1 10.25 7.55V13.75A2.70 2.70 0 0 1 4.85 13.75Z" fill-rule="evenodd"/><path d="M17.90 43.25A7.55 7.55 0 0 1 33.00 43.25V49.45A7.55 7.55 0 0 1 17.90 49.45ZM22.75 43.25A2.70 2.70 0 0 1 28.15 43.25V49.45A2.70 2.70 0 0 1 22.75 49.45Z" fill-rule="evenodd"/><path d="M27.1 0H32.3L6.3 57H0.9Z" fill-rule="nonzero"/></g></g><g transform="translate(1499.30 1011.90) scale(1.0056 1.0070)" fill="#6A6A6A"><g transform="translate(0.00 0)"><ellipse cx="17.1" cy="16.15" rx="11.75" ry="11.95" fill="none" stroke="#6A6A6A" stroke-width="8.2"/><ellipse cx="17.1" cy="40.0" rx="12.95" ry="12.85" fill="none" stroke="#6A6A6A" stroke-width="8.3"/></g><g transform="translate(41.80 0)"><path d="M0 48.3H8.7V57H0Z" fill-rule="nonzero"/></g><g transform="translate(56.80 0)"><path d="M4.45 15.4A11.75 11.75 0 1 1 16.2 27.2H12.6" fill="none" stroke="#6A6A6A" stroke-width="8.6"/><path d="M12.6 27.9H16.6A12.3 12.3 0 1 1 4.3 40.9" fill="none" stroke="#6A6A6A" stroke-width="8.6"/></g></g><g transform="translate(1597.80 1011.90) scale(1.0121 1.0070)" fill="#6A6A6A"><g transform="translate(0.00 0)"><path d="M0.00 7.55A7.55 7.55 0 0 1 15.10 7.55V13.75A7.55 7.55 0 0 1 0.00 13.75ZM4.85 7.55A2.70 2.70 0 0 1 10.25 7.55V13.75A2.70 2.70 0 0 1 4.85 13.75Z" fill-rule="evenodd"/><path d="M17.90 43.25A7.55 7.55 0 0 1 33.00 43.25V49.45A7.55 7.55 0 0 1 17.90 49.45ZM22.75 43.25A2.70 2.70 0 0 1 28.15 43.25V49.45A2.70 2.70 0 0 1 22.75 49.45Z" fill-rule="evenodd"/><path d="M27.1 0H32.3L6.3 57H0.9Z" fill-rule="nonzero"/></g></g></svg>
<div style="position:absolute;left:61.1px;top:1188.6px;width:6.6px;height:6.6px;background:#4F4F4F"></div>
<div style="position:absolute;left:61.1px;top:1230.8px;width:6.6px;height:6.6px;background:#4F4F4F"></div>
<div style="position:absolute;left:1123.2px;top:1146px;width:7.1px;height:7.1px;background:#4F4F4F"></div>
<div style="position:absolute;left:1123.2px;top:1188.5px;width:7.1px;height:7.1px;background:#4F4F4F"></div>
<div style="position:absolute;left:1123.2px;top:1231px;width:7.1px;height:7.1px;background:#4F4F4F"></div>
<svg style="position:absolute;left:1760px;top:1150px" width="130" height="106" viewBox="1760 1150 130 106">
<rect x="1767.9" y="1159.7" width="113.7" height="87.8" fill="#fff" stroke="#E3731E" stroke-width="4.4"/>
<path d="M1765.7 1180.25L1817.4 1157.5H1831.7L1883.8 1180.84V1187.4L1824.6 1160.88L1765.7 1186.8Z" fill="#E3731E"/>
<text x="1782.5" y="1207" font-family="Liberation Sans" font-size="30" font-weight="normal" fill="#E3731E" stroke="#E3731E" stroke-width="0.35" textLength="86">葬儀の</text>
<path d="M1785.5 1215.5 h23.5 a2.8 2.8 0 0 1 2.8 2.8 v20 a2.8 2.8 0 0 1 -2.8 2.8 h-11.5 l-5.5 4.6 v-4.6 h-6.5 a2.8 2.8 0 0 1 -2.8 -2.8 v-20 a2.8 2.8 0 0 1 2.8 -2.8 z" fill="none" stroke="#E3731E" stroke-width="2.4"/>
<circle cx="1792.6" cy="1226.4" r="1.35" fill="#E3731E"/><circle cx="1802.3" cy="1226.4" r="1.35" fill="#E3731E"/>
<path d="M1790 1231.6 q7.5 6 15 0" fill="none" stroke="#E3731E" stroke-width="2" stroke-linecap="round"/>
<path d="M1818.3 1217.9 h23.2 v20.6 h-23.2" fill="none" stroke="#E3731E" stroke-width="2.8"/>
<path d="M1849.5 1217.6 l20.2 3.4 M1848.6 1226.2 l20.2 3.4 M1848 1235.2 l23 4.8" fill="none" stroke="#E3731E" stroke-width="2.7" stroke-linecap="round"/>
</svg>
<div class="frame"></div>
</body></html>
